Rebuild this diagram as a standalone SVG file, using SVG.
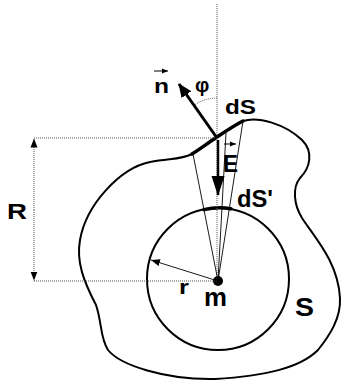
<svg xmlns="http://www.w3.org/2000/svg" width="342" height="386" viewBox="0 0 342 386">
<style>
.lbl{font-family:"Liberation Sans",Arial,sans-serif;font-weight:bold;fill:#000}
.dot{stroke:#555;stroke-width:1;stroke-dasharray:1 1;fill:none}
.thin{stroke:#000;stroke-width:0.9;fill:none}
.outline{stroke:#000;stroke-width:2;fill:none}
.thick{stroke:#000;stroke-width:3.5;fill:none;stroke-linecap:round}
.vec{stroke:#000;stroke-width:1}
</style>
<defs>
<marker id="bigHead" markerUnits="userSpaceOnUse" markerWidth="14" markerHeight="14" viewBox="0 0 14 14" refX="13" refY="7" orient="auto">
<path d="M0,1 L14,7 L0,13 Z" fill="#000"/>
</marker>
<marker id="downHead" markerUnits="userSpaceOnUse" markerWidth="20" markerHeight="14" viewBox="0 0 20 14" refX="19" refY="7" orient="auto">
<path d="M0,0.5 L20,7 L0,13.5 Z" fill="#000"/>
</marker>
<marker id="smallHead" markerUnits="userSpaceOnUse" markerWidth="9" markerHeight="8" viewBox="0 0 9 8" refX="9" refY="4" orient="auto">
<path d="M0,0.5 L9,4 L0,7.5 Z" fill="#000"/>
</marker>
<marker id="vecHead" markerUnits="userSpaceOnUse" markerWidth="6" markerHeight="6" viewBox="0 0 6 6" refX="6" refY="3" orient="auto">
<path d="M0,0.5 L6,3 L0,5.5 Z" fill="#000"/>
</marker>
</defs>

<g id="surface-S">
<path class="outline" d="M243,121 C258,116 285,124 302,140 C314,152 310,168 300,178 C292,188 294,205 302,218 C315,238 338,262 340,298 C341,318 330,335 318,350 C300,368 265,376 215,379 C165,380 120,365 108,350 C100,338 102,322 96,305 C84,282 76,262 80,240 C86,205 120,168 150,162 C170,158 180,160 192,154 C200,149 208,143 217,137 C226,131 235,125 243,121 Z"/>
<path id="dS" class="thick" d="M192,154 C200,149 208,143 217,137 C226,131 235,125 243,121"/>
</g>

<g id="sphere">
<circle class="outline" cx="218" cy="279" r="71"/>
<path id="dSprime" class="thick" d="M204,209.6 A71,71 0 0 1 231,208.8"/>
</g>

<g id="mass">
<circle cx="218" cy="281" r="5" fill="#000"/>
</g>

<g id="connectors">
<line class="dot" x1="217" y1="4" x2="217" y2="281"/>
<line class="dot" x1="34" y1="138" x2="217" y2="138"/>
<line class="dot" x1="34" y1="281" x2="218" y2="281"/>
<line class="dot" x1="34" y1="210" x2="34" y2="138.5" marker-end="url(#smallHead)"/>
<line class="dot" x1="34" y1="210" x2="34" y2="280.5" marker-end="url(#smallHead)"/>
<line class="thin" x1="218" y1="281" x2="193" y2="154"/>
<line class="thin" x1="218" y1="281" x2="243" y2="121"/>
<line class="thin" x1="218" y1="281" x2="226" y2="133"/>
<line class="thin" x1="218" y1="281" x2="151" y2="260" marker-end="url(#smallHead)"/>
<path class="dot" d="M217,98 A40,40 0 0 0 194,105.3"/>
<line stroke="#000" stroke-width="3" x1="217" y1="138" x2="179" y2="84" marker-end="url(#bigHead)"/>
<line stroke="#000" stroke-width="2.5" x1="218" y1="140" x2="218" y2="195" marker-end="url(#downHead)"/>
<line class="vec" x1="154" y1="71" x2="168" y2="71" marker-end="url(#vecHead)"/>
<line class="vec" x1="224" y1="144" x2="236" y2="144" marker-end="url(#vecHead)"/>
</g>

<g id="labels">
<text class="lbl" x="7" y="219" font-size="22" textLength="20" lengthAdjust="spacingAndGlyphs">R</text>
<text class="lbl" x="154" y="93" font-size="21" textLength="15" lengthAdjust="spacingAndGlyphs">n</text>
<text class="lbl" x="195" y="92" font-size="20">φ</text>
<text class="lbl" x="225" y="114" font-size="21" textLength="31" lengthAdjust="spacingAndGlyphs">dS</text>
<text class="lbl" x="223" y="172" font-size="23" textLength="15" lengthAdjust="spacingAndGlyphs">E</text>
<text class="lbl" x="237" y="207" font-size="23" textLength="36" lengthAdjust="spacingAndGlyphs">dS'</text>
<text class="lbl" x="179" y="294" font-size="21" textLength="10" lengthAdjust="spacingAndGlyphs">r</text>
<text class="lbl" x="204" y="306" font-size="25" textLength="23" lengthAdjust="spacingAndGlyphs">m</text>
<text class="lbl" x="295" y="316" font-size="25" textLength="19" lengthAdjust="spacingAndGlyphs">S</text>
</g>
</svg>
